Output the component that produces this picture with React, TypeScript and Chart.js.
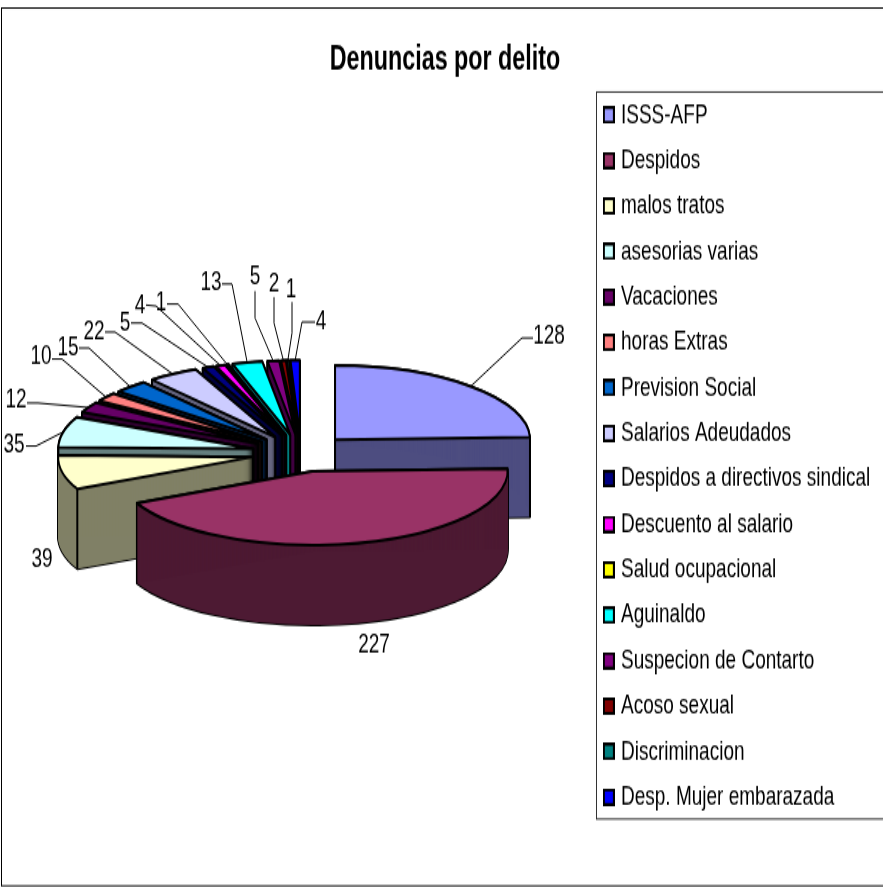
import React, { useEffect, useRef } from "react";
import { Chart, registerables } from "chart.js";

Chart.register(...registerables);

const titleText = "Denuncias por delito";
const categories = [
  "ISSS-AFP", "Despidos", "malos tratos", "asesorias varias", "Vacaciones", "horas Extras",
  "Prevision Social", "Salarios Adeudados", "Despidos a directivos sindical", "Descuento al salario",
  "Salud ocupacional", "Aguinaldo", "Suspecion de Contarto", "Acoso sexual", "Discriminacion",
  "Desp. Mujer embarazada",
];
const complaints = [128, 227, 39, 35, 12, 10, 15, 22, 5, 4, 1, 13, 5, 2, 1, 4];
const sliceColors = [
  "#9999FF", "#993366", "#FFFFCC", "#CCFFFF", "#660066", "#FF8080", "#0066CC", "#CCCCFF",
  "#000080", "#FF00FF", "#FFFF00", "#00FFFF", "#800080", "#800000", "#008080", "#0000FF",
];
const wallColors = [
  "#4D4D80", "#4D1A33", "#808066", "#668080", "#330033", "#804040", "#003366", "#666680",
  "#000040", "#800080", "#808000", "#008080", "#400040", "#400000", "#004040", "#000080",
];
// Page-pixel placement of each value label: text centre, leader start, leader elbow.
const labelText: number[][] = [
  [549, 336], [374, 645], [42, 559], [14, 445], [16, 400], [41, 357], [68, 347], [94, 331],
  [125, 323], [140, 305], [161, 303], [211, 283], [255, 277], [274, 284], [291, 289], [321, 322],
];
const leaderStart: (number[] | null)[] = [
  [533, 338], null, null, [26, 446], [27, 403], [52, 359], [79, 348], [105, 332],
  [131, 323], [146, 305], [167, 304], [222, 284], [255, 291], [274, 297], [292, 302], [315, 322],
];
const leaderElbow: (number[] | null)[] = [
  [522, 338], null, null, [36, 446], [38, 403], [62, 359], [89, 348], [115, 332],
  [142, 323], [156, 306], [178, 304], [232, 284], [255, 318], [274, 323], [292, 333], [302, 322],
];
const drawOrder = [15, 14, 13, 12, 11, 10, 9, 8, 7, 6, 5, 4, 3, 2, 0, 1];

const W = 883;
const K = 1.45; // the whole picture is stretched vertically by this factor
const H = 888 / K;
const FONT = "'Liberation Sans', Arial, sans-serif";
const TEXT_SIZE = 19;
const ROW = 45.47 / K;
const PAD = ROW - TEXT_SIZE;
const PIE_X = 301;
const PIE_Y = 453 / K;
const RADIUS = 195;
const EXPLODE = 49;
const TILT = 0.38 / K;
const DEPTH = 80 / K;

function swatch(color: string) {
  const c = document.createElement("canvas");
  c.width = 12;
  c.height = 12;
  const x = c.getContext("2d")!;
  x.fillStyle = color;
  x.fillRect(0, 0, 12, 12);
  x.strokeStyle = "#000";
  x.lineWidth = 2;
  x.strokeRect(1, 1, 10, 10);
  return c;
}

function apex(a: any) {
  const mid = (a.startAngle + a.endAngle) / 2;
  return { x: PIE_X + Math.cos(mid) * EXPLODE, y: PIE_Y + Math.sin(mid) * EXPLODE * TILT };
}
function rim(a: any, angle: number) {
  const p = apex(a);
  return { x: p.x + Math.cos(angle) * a.outerRadius, y: p.y + Math.sin(angle) * a.outerRadius * TILT };
}
function tracePie(ctx: any, a: any, dy: number) {
  const p = apex(a);
  ctx.save();
  ctx.translate(p.x, p.y + dy);
  ctx.scale(1, TILT);
  ctx.beginPath();
  ctx.moveTo(0, 0);
  ctx.arc(0, 0, a.outerRadius, a.startAngle, a.endAngle);
  ctx.closePath();
  ctx.restore();
}

const pie3d = {
  id: "pie3d",
  afterLayout(chart: any) {
    const t = chart.titleBlock;
    t.left = 7;
    t.right = W;
    t.top = 60 / K - t.height / 2;
    const l = chart.legend;
    const nominalBox = 5.3;
    l.left = 621 - TEXT_SIZE / 2 - nominalBox - PAD;
    l.right = W + 40;
    l.top = 115 / K - TEXT_SIZE / 2 - PAD;
  },
  beforeDraw(chart: any) {
    const ctx = chart.ctx;
    ctx.save();
    ctx.fillStyle = "#fff";
    ctx.fillRect(0, 0, W, H);
    ctx.strokeStyle = "#000";
    ctx.lineWidth = 1;
    ctx.strokeRect(1.5, 8 / K, W - 1, 878 / K);
    ctx.strokeStyle = "#333";
    ctx.strokeRect(596.5, 92 / K, W - 596, 727 / K);
    ctx.restore();
  },
  beforeDatasetsDraw(chart: any) {
    const ctx = chart.ctx;
    const arcs = chart.getDatasetMeta(0).data;
    ctx.save();
    for (const i of drawOrder) {
      const a = arcs[i];
      // silhouette of the extruded slice
      ctx.strokeStyle = "#000";
      ctx.lineWidth = 2;
      ctx.lineJoin = "round";
      for (let d = 0; d <= DEPTH; d += 1) {
        tracePie(ctx, a, d);
        ctx.stroke();
      }
      ctx.fillStyle = wallColors[i];
      for (let d = 0; d <= DEPTH; d += 0.5) {
        tracePie(ctx, a, d);
        ctx.fill();
      }
      // vertical edges of the cut faces that look towards the viewer
      const p = apex(a);
      const edges: number[] = [];
      if (Math.sin(a.startAngle - Math.PI / 2) > 0.001) edges.push(a.startAngle);
      if (Math.sin(a.endAngle + Math.PI / 2) > 0.001) edges.push(a.endAngle);
      ctx.beginPath();
      if (edges.length) {
        ctx.moveTo(p.x, p.y);
        ctx.lineTo(p.x, p.y + DEPTH);
      }
      for (const e of edges) {
        const q = rim(a, e);
        ctx.moveTo(q.x, q.y);
        ctx.lineTo(q.x, q.y + DEPTH);
      }
      ctx.stroke();
      // top face, drawn by the chart's own arc element under the tilt and explosion
      ctx.save();
      ctx.translate(p.x, p.y);
      ctx.scale(1, TILT);
      ctx.translate(-a.x, -a.y);
      a.draw(ctx);
      ctx.restore();
      tracePie(ctx, a, 0);
      ctx.stroke();
    }
    // value labels and leader lines
    ctx.font = `${TEXT_SIZE}px ${FONT}`;
    ctx.textAlign = "center";
    ctx.textBaseline = "middle";
    ctx.fillStyle = "#000";
    ctx.strokeStyle = "#000";
    ctx.lineWidth = 1;
    complaints.forEach((v, i) => {
      const s = leaderStart[i];
      const e = leaderElbow[i];
      if (s && e) {
        const a = arcs[i];
        const q = rim(a, (a.startAngle + a.endAngle) / 2);
        ctx.beginPath();
        ctx.moveTo(s[0], s[1] / K);
        ctx.lineTo(e[0], e[1] / K);
        ctx.lineTo(q.x, q.y);
        ctx.stroke();
      }
      ctx.fillText(String(v), labelText[i][0], labelText[i][1] / K);
    });
    ctx.restore();
    return false;
  },
};

export default function App() {
  const ref = useRef<HTMLCanvasElement>(null);
  useEffect(() => {
    const chart = new Chart(ref.current!, {
      type: "pie",
      plugins: [pie3d],
      data: {
        labels: categories,
        datasets: [
          {
            data: complaints,
            backgroundColor: sliceColors,
            borderWidth: 0,
          },
        ],
      },
      options: {
        responsive: false,
        animation: false,
        events: [],
        radius: RADIUS,
        layout: { padding: 0 },
        plugins: {
          tooltip: { enabled: false },
          title: {
            display: true,
            text: titleText,
            color: "#000",
            padding: 0,
            font: { family: FONT, size: 23.3, weight: "bold" },
          },
          legend: {
            display: true,
            position: "right",
            align: "start",
            labels: {
              color: "#000",
              font: { family: FONT, size: TEXT_SIZE },
              padding: PAD,
              usePointStyle: true,
              pointStyleWidth: 5.3,
              boxHeight: TEXT_SIZE,
              generateLabels: () =>
                categories.map((text, index) => ({
                  text,
                  index,
                  fillStyle: sliceColors[index],
                  strokeStyle: "#000",
                  lineWidth: 1,
                  hidden: false,
                  pointStyle: swatch(sliceColors[index]),
                })),
            },
          },
        },
      } as any,
    });
    return () => chart.destroy();
  }, []);
  return (
    <div style={{ position: "fixed", left: 0, top: 0, width: W, height: H, transform: `scaleY(${K})`, transformOrigin: "0 0" }}>
      <canvas ref={ref} width={W} height={H} style={{ display: "block", width: W, height: H }} />
    </div>
  );
}
